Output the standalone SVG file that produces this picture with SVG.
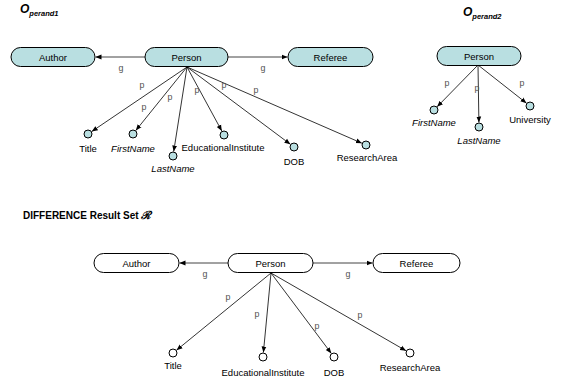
<svg xmlns="http://www.w3.org/2000/svg" width="562" height="381" viewBox="0 0 562 381">
<defs>
<marker id="ah" viewBox="0 0 6 6" refX="6" refY="3" markerWidth="6" markerHeight="6" markerUnits="userSpaceOnUse" orient="auto">
<path d="M0,0.6 L6,3 L0,5.4 Z" fill="#000"/>
</marker>
</defs>
<style>
.bg{fill:#fff}
.n{fill:#b9dfe1;stroke:#000;stroke-width:1}
.w{fill:#fff;stroke:#000;stroke-width:1}
.t{font-family:"Liberation Sans",Arial,sans-serif;font-size:9.5px;fill:#000;text-anchor:middle}
.i{font-style:italic}
.e{stroke:#000;stroke-width:0.8;fill:none;marker-end:url(#ah)}
.g{stroke:#444;stroke-width:1;fill:none;marker-end:url(#ah)}
.l{font-family:"Liberation Mono","Courier New",monospace;font-size:9px;fill:#555;text-anchor:middle}
.h{font-family:"Liberation Sans",Arial,sans-serif;font-weight:bold;font-style:italic;fill:#000}
</style>
<rect class="bg" x="0" y="0" width="562" height="381"/>

<text class="h" x="20" y="13" font-size="12">O<tspan font-size="7.5" dy="3">perand1</tspan></text>
<text class="h" x="463" y="16" font-size="12">O<tspan font-size="7.5" dy="3">perand2</tspan></text>
<text x="23" y="219" font-family="'Liberation Sans',Arial,sans-serif" font-weight="bold" font-size="10">DIFFERENCE Result Set <tspan font-family="'DejaVu Serif','Liberation Serif',serif" font-style="italic" font-size="11">ℛ</tspan></text>

<g id="connectors">
<line class="g" x1="145" y1="57" x2="95.5" y2="57"/>
<line class="g" x1="228" y1="57" x2="287.5" y2="57"/>
<line class="e" x1="187" y1="67" x2="91.7" y2="131.5"/>
<line class="e" x1="187" y1="67" x2="135.8" y2="130.5"/>
<line class="e" x1="187" y1="67" x2="173.7" y2="151.6"/>
<line class="e" x1="187" y1="67" x2="221.8" y2="131"/>
<line class="e" x1="187" y1="67" x2="290.4" y2="144.3"/>
<line class="e" x1="187" y1="67" x2="361.9" y2="143.2"/>
<line class="e" x1="478" y1="65" x2="437.1" y2="106.8"/>
<line class="e" x1="478" y1="65" x2="478.9" y2="122.5"/>
<line class="e" x1="478" y1="65" x2="526.5" y2="103.2"/>
<line class="g" x1="228" y1="263" x2="179.5" y2="263"/>
<line class="g" x1="313" y1="263" x2="372.5" y2="263"/>
<line class="e" x1="271" y1="273" x2="176.5" y2="350.2"/>
<line class="e" x1="271" y1="273" x2="263.4" y2="352.5"/>
<line class="e" x1="271" y1="273" x2="331.3" y2="353.4"/>
<line class="e" x1="271" y1="273" x2="406.1" y2="350.8"/>
<text class="l" x="121" y="71">g</text>
<text class="l" x="263" y="71">g</text>
<text class="l" x="142" y="88">p</text>
<text class="l" x="144" y="110">p</text>
<text class="l" x="170" y="100">p</text>
<text class="l" x="197" y="93">p</text>
<text class="l" x="224" y="88">p</text>
<text class="l" x="256" y="93">p</text>
<text class="l" x="447" y="86">p</text>
<text class="l" x="477" y="91">p</text>
<text class="l" x="522" y="86">p</text>
<text class="l" x="205" y="277">g</text>
<text class="l" x="348" y="277">g</text>
<text class="l" x="228" y="300">p</text>
<text class="l" x="257" y="317">p</text>
<text class="l" x="317" y="329">p</text>
<text class="l" x="360" y="318">p</text>
</g>

<g id="op1-author"><rect class="n" x="11" y="47.5" width="84" height="19" rx="9.5"/><text class="t" x="53" y="60.5">Author</text></g>
<g id="op1-person"><rect class="n" x="145" y="47.5" width="83" height="19" rx="9.5"/><text class="t" x="186.5" y="60.5">Person</text></g>
<g id="op1-referee"><rect class="n" x="288" y="47.5" width="85" height="19" rx="9.5"/><text class="t" x="330.5" y="60.5">Referee</text></g>
<g id="op1-title"><circle class="n" cx="88" cy="134" r="4"/><text class="t" x="88" y="152">Title</text></g>
<g id="op1-firstname"><circle class="n" cx="133" cy="134" r="4"/><text class="t i" x="133" y="152">FirstName</text></g>
<g id="op1-lastname"><circle class="n" cx="173" cy="156" r="4"/><text class="t i" x="173" y="172">LastName</text></g>
<g id="op1-edu"><circle class="n" cx="224" cy="135" r="4"/><text class="t" x="223" y="151">EducationalInstitute</text></g>
<g id="op1-dob"><circle class="n" cx="294" cy="147" r="4"/><text class="t" x="294" y="165">DOB</text></g>
<g id="op1-research"><circle class="n" cx="366" cy="145" r="4"/><text class="t" x="367" y="161">ResearchArea</text></g>

<g id="op2-person"><rect class="n" x="437" y="46.5" width="84" height="19" rx="9.5"/><text class="t" x="479" y="59.5">Person</text></g>
<g id="op2-firstname"><circle class="n" cx="434" cy="110" r="4"/><text class="t i" x="434" y="126">FirstName</text></g>
<g id="op2-lastname"><circle class="n" cx="479" cy="127" r="4"/><text class="t i" x="479" y="144">LastName</text></g>
<g id="op2-university"><circle class="n" cx="530" cy="106" r="4"/><text class="t" x="530" y="123">University</text></g>

<g id="res-author"><rect class="w" x="94" y="253.5" width="85" height="19" rx="9.5"/><text class="t" x="136.5" y="266.5">Author</text></g>
<g id="res-person"><rect class="w" x="228" y="253.5" width="85" height="19" rx="9.5"/><text class="t" x="270.5" y="266.5">Person</text></g>
<g id="res-referee"><rect class="w" x="373" y="253.5" width="87" height="19" rx="9.5"/><text class="t" x="416.5" y="266.5">Referee</text></g>
<g id="res-title"><circle class="w" cx="173" cy="353" r="4"/><text class="t" x="173" y="369">Title</text></g>
<g id="res-edu"><circle class="w" cx="263" cy="357" r="4"/><text class="t" x="263" y="376">EducationalInstitute</text></g>
<g id="res-dob"><circle class="w" cx="334" cy="357" r="4"/><text class="t" x="334" y="376">DOB</text></g>
<g id="res-research"><circle class="w" cx="410" cy="353" r="4"/><text class="t" x="410" y="371">ResearchArea</text></g>
</svg>
